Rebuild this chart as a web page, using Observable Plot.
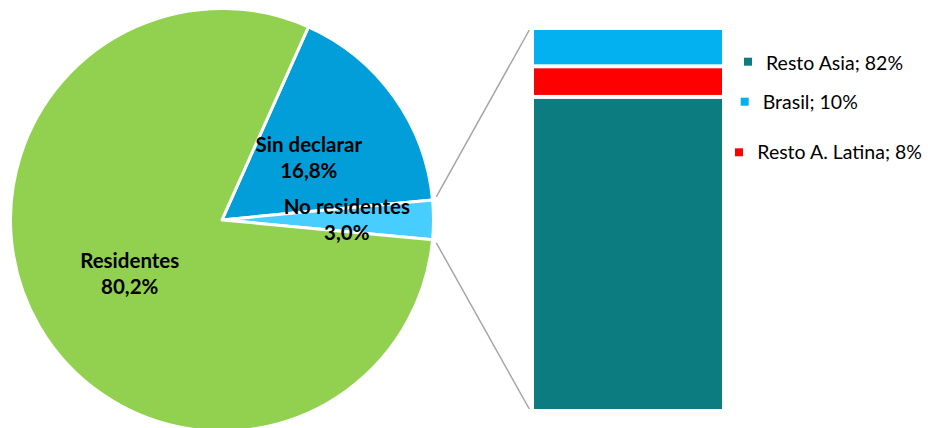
<!DOCTYPE html>
<html>
<head>
<meta charset="utf-8">
<script src="https://cdn.jsdelivr.net/npm/d3@7"></script>
<script src="https://cdn.jsdelivr.net/npm/@observablehq/plot@0.6"></script>
<style>
  html, body { margin: 0; padding: 0; background: #ffffff; }
  #chart { width: 928px; height: 428px; }
  #chart svg { display: block; font-family: Lato, "Open Sans", sans-serif; }
</style>
</head>
<body>
<div id="chart"></div>
<script>
// ---- data ----
const pieCategories = ["Sin declarar", "No residentes", "Residentes"];
const pieValues = [16.8, 3.0, 80.2];
const pieValueLabels = ["16,8%", "3,0%", "80,2%"];

const barCategories = ["Resto Asia", "Resto A. Latina", "Brasil"];
const barValues = [82, 8, 10];

const legendCategories = ["Resto Asia", "Brasil", "Resto A. Latina"];
const legendLabels = ["Resto Asia; 82%", "Brasil; 10%", "Resto A. Latina; 8%"];

// ---- styles ----
const pieColors = {"Sin declarar": "#019ED9", "No residentes": "#48CDFF", "Residentes": "#92D050"};
const barColors = {"Resto Asia": "#0C7C80", "Resto A. Latina": "#FF0000", "Brasil": "#03B0F0"};

// ---- layout (scale units: x ~ pixels, y = percent of the bar) ----
const pieCenter = [222, 49.9];
const pieRadius = 211.5;
const barX = [534, 722];
const labelRadius = {"Sin declarar": 0.505, "No residentes": 0.59, "Residentes": 0.505};
const legendLayout = [
  {sx: 748, sy: 61.7, tx: 766, ty: 70},
  {sx: 744.7, sy: 101.7, tx: 762.7, ty: 109.3},
  {sx: 739, sy: 152.3, tx: 757.3, ty: 159.3}
];

const pieData = pieCategories.map((c, i) => ({category: c, value: pieValues[i], label: pieValueLabels[i]}));
const barData = barCategories.map((c, i) => ({category: c, value: barValues[i]}));

function pieOfBar(index, scales, values, dimensions, context) {
  const g = d3.create("svg:g");
  const cx = scales.x(pieCenter[0]);
  const cy = scales.y(pieCenter[1]);
  const r = scales.x(pieCenter[0] + pieRadius) - cx;
  const total = d3.sum(pieValues);
  const start = Math.PI / 2 - (pieValues[0] + pieValues[1] / 2) / total * 2 * Math.PI;
  const arcs = d3.pie().sort(null).value(d => d.value).startAngle(start).endAngle(start + 2 * Math.PI)(pieData);
  const arc = d3.arc().innerRadius(0).outerRadius(r);

  // connector lines from the "No residentes" slice to the bar
  const nr = arcs[1];
  const bx = scales.x(barX[0]) - 4.7;
  const yTop = scales.y(100) + 2, yBot = scales.y(0) - 2;
  const off = 0.7 * Math.PI / 180;
  const pt = (a, rr) => [cx + rr * Math.sin(a), cy - rr * Math.cos(a)];
  const p1 = pt(nr.startAngle - off, r + 4);
  const p2 = pt(nr.endAngle + off, r + 4);
  g.append("line").attr("x1", p1[0]).attr("y1", p1[1]).attr("x2", bx).attr("y2", yTop)
    .attr("stroke", "#A6A6A6").attr("stroke-width", 1.5);
  g.append("line").attr("x1", p2[0]).attr("y1", p2[1]).attr("x2", bx).attr("y2", yBot)
    .attr("stroke", "#A6A6A6").attr("stroke-width", 1.5);

  const pg = g.append("g").attr("transform", `translate(${cx},${cy})`);
  pg.selectAll("path").data(arcs).join("path")
    .attr("d", arc)
    .attr("fill", d => pieColors[d.data.category])
    .attr("stroke", "#ffffff")
    .attr("stroke-width", 3)
    .attr("stroke-linejoin", "round");

  arcs.forEach(d => {
    const a = (d.startAngle + d.endAngle) / 2;
    const rr = r * labelRadius[d.data.category];
    const lx = rr * Math.sin(a), ly = -rr * Math.cos(a);
    const t = pg.append("text")
      .attr("text-anchor", "middle")
      .attr("font-weight", "bold")
      .attr("font-size", 20.5)
      .attr("fill", "#000000");
    t.append("tspan").attr("x", lx).attr("y", ly - 6).text(d.data.category);
    t.append("tspan").attr("x", lx).attr("y", ly + 20.5).text(d.data.label);
  });

  // legend
  const lg = g.append("g");
  legendCategories.forEach((c, i) => {
    const L = legendLayout[i];
    lg.append("rect").attr("x", L.sx - 4).attr("y", L.sy - 4).attr("width", 8).attr("height", 8)
      .attr("fill", barColors[c]);
    lg.append("text").attr("x", L.tx).attr("y", L.ty).attr("font-size", 19.5).attr("fill", "#000000")
      .attr("text-anchor", "start")
      .text(legendLabels[i]);
  });
  return g.node();
}

const chart = Plot.plot({
  width: 928,
  height: 428,
  margin: 0,
  x: {type: "linear", domain: [0, 928], range: [0, 928], axis: null},
  y: {type: "linear", domain: [0, 100], range: [411, 28], axis: null},
  color: {domain: barCategories, range: barCategories.map(c => barColors[c])},
  marks: [
    Plot.rectY(barData, {
      x1: () => barX[0], x2: () => barX[1],
      y: "value", fill: "category",
      insetTop: 2, insetBottom: 2
    }),
    pieOfBar
  ]
});
document.getElementById("chart").appendChild(chart);
</script>
</body>
</html>
